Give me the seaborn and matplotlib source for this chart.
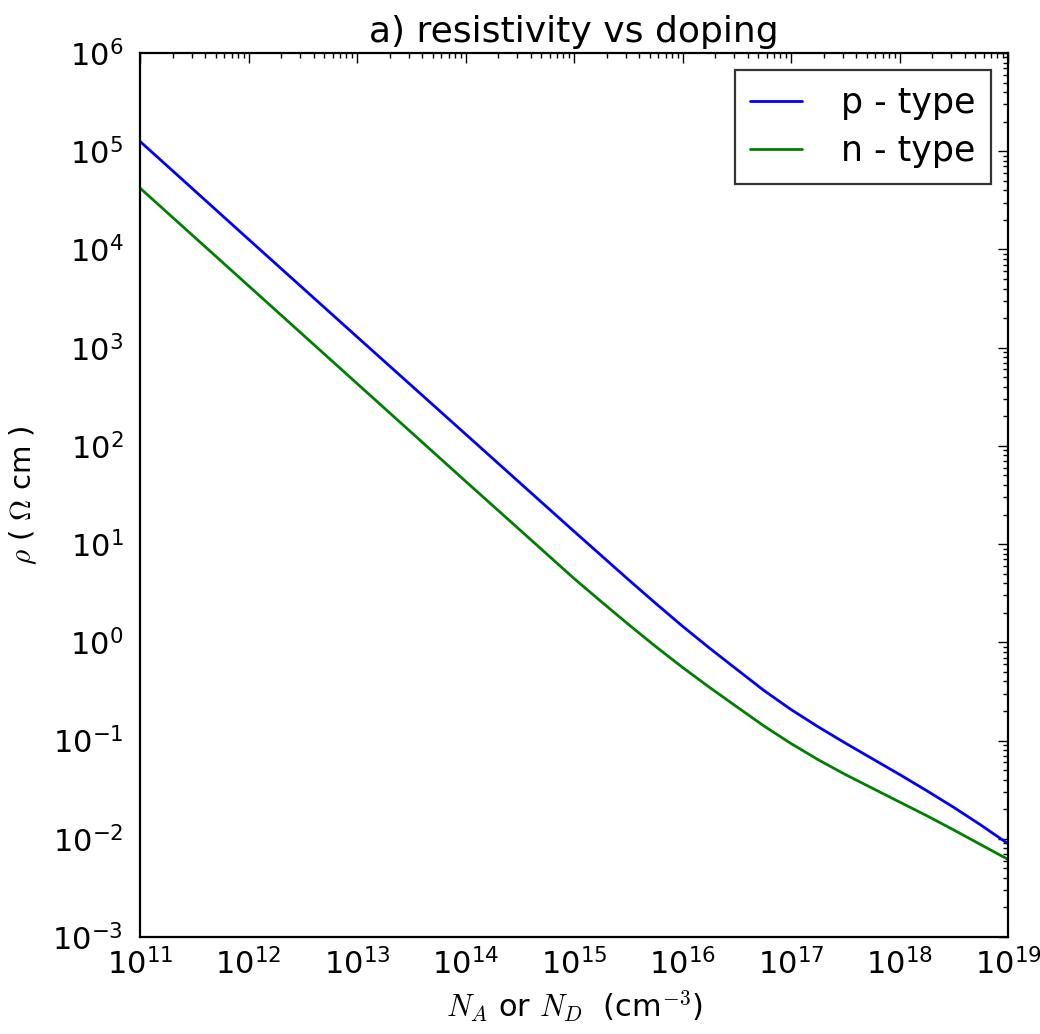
import numpy as np
import pandas as pd
import matplotlib
matplotlib.use("Agg")
import matplotlib.pyplot as plt
import seaborn as sns

# doping (cm^-3)
doping = [1e11, 1e12, 1e13, 1e14, 3.16e14, 1e15, 1.78e15, 3.16e15, 5.62e15,
          1e16, 1.78e16, 3.16e16, 5.62e16, 1e17, 1.78e17, 3.16e17, 5.62e17,
          1e18, 1.78e18, 3.16e18, 5.62e18, 1e19]
# resistivity (Ohm cm)
rho_p = [1.26e5, 1.27e4, 1.29e3, 132.0, 42.2, 13.5, 7.67, 4.37, 2.51,
         1.46, 0.871, 0.531, 0.324, 0.207, 0.138, 0.0944, 0.0653,
         0.0452, 0.0309, 0.0209, 0.0138, 0.00891]
rho_n = [4.22e4, 4.27e3, 432.0, 43.7, 14.0, 4.47, 2.60, 1.53, 0.912,
         0.556, 0.347, 0.221, 0.141, 0.0933, 0.0638, 0.0452, 0.0327,
         0.0237, 0.0172, 0.0123, 0.00871, 0.00617]
series_names = ["p - type", "n - type"]
title = "a) resistivity vs doping"

sns.set_style("white")
plt.rcParams.update({
    "font.family": ["DejaVu Sans"],
    "mathtext.fontset": "cm",
    "text.color": "black",
    "axes.labelcolor": "black",
    "xtick.direction": "in", "ytick.direction": "in",
    "xtick.top": True, "ytick.right": True,
    "xtick.major.size": 7, "ytick.major.size": 7,
    "xtick.minor.size": 3.5, "ytick.minor.size": 3.5,
    "xtick.major.width": 1.0, "ytick.major.width": 1.0,
    "xtick.minor.width": 1.0, "ytick.minor.width": 1.0,
    "xtick.color": "black", "ytick.color": "black",
    "axes.edgecolor": "black",
})

df = pd.DataFrame({
    "N": doping * 2,
    "rho": rho_p + rho_n,
    "type": [series_names[0]] * len(doping) + [series_names[1]] * len(doping),
})

fig = plt.figure(figsize=(10.4, 10.34), dpi=100)
ax = fig.add_axes([140/1040, 97/1034, 868/1040, 884/1034])
sns.lineplot(data=df, x="N", y="rho", hue="type",
             palette=["#0000ff", "#008000"], linewidth=2.0, ax=ax,
             legend=True)
ax.set_xscale("log")
ax.set_yscale("log")
ax.set_xlim(1e11, 1e19)
ax.set_ylim(1e-3, 1e6)
for s in ax.spines.values():
    s.set_linewidth(1.6)
    s.set_color("black")
ax.tick_params(which="both", direction="in", top=True, right=True,
               labelsize=22)
ax.tick_params(axis="x", pad=8)
ax.tick_params(axis="y", pad=12)
ax.set_xlabel(r"$N_A$ or $N_D$  (cm$^{-3}$)", fontsize=22, labelpad=6)
ax.set_ylabel(r"$\rho$ ( $\Omega$ cm )", fontsize=21, labelpad=10)
ax.set_title(title, fontsize=26, pad=8, color="black")
leg = ax.legend(loc="upper right", fontsize=25, frameon=True, fancybox=False,
                handlelength=1.5, handletextpad=1.1, borderpad=0.45,
                labelspacing=0.4, borderaxespad=0.5)
leg.get_frame().set_edgecolor("black")
leg.get_frame().set_linewidth(1.6)
for h in leg.get_lines():
    h.set_linewidth(2.0)
for t in leg.get_texts():
    t.set_color("black")

fig.savefig("out.png", dpi=100)
